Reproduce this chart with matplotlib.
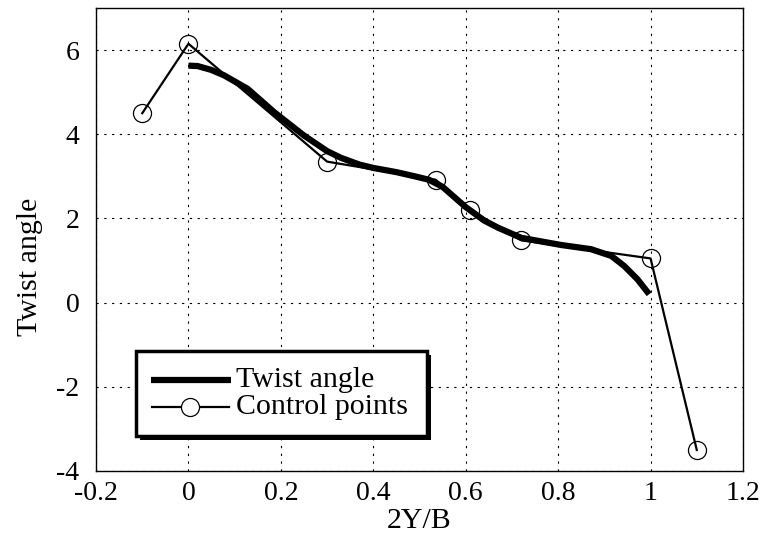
import matplotlib
matplotlib.use("Agg")
import matplotlib.pyplot as plt
from matplotlib.patches import Rectangle
from matplotlib.lines import Line2D

# twist angle distribution along the span
span_x = [0.0, 0.02, 0.049, 0.077, 0.128, 0.186, 0.25, 0.3, 0.33, 0.37,
          0.4, 0.45, 0.49, 0.52, 0.55, 0.6, 0.64, 0.67, 0.72, 0.806,
          0.871, 0.915, 0.943, 0.972, 0.997]
twist = [5.63, 5.62, 5.53, 5.40, 5.08, 4.52, 3.97, 3.6, 3.44, 3.28,
         3.2, 3.1, 3.0, 2.92, 2.75, 2.27, 1.95, 1.78, 1.54, 1.37,
         1.27, 1.11, 0.87, 0.55, 0.20]

# control points of the spline
ctrl_x = [-0.1, 0.0, 0.3, 0.535, 0.61, 0.72, 1.0, 1.1]
ctrl_y = [4.5, 6.15, 3.35, 2.92, 2.2, 1.48, 1.05, -3.5]

xticks = [-0.2, 0, 0.2, 0.4, 0.6, 0.8, 1, 1.2]
xtick_labels = ["-0.2", "0", "0.2", "0.4", "0.6", "0.8", "1", "1.2"]
yticks = [-4, -2, 0, 2, 4, 6]

plt.rcParams['font.family'] = ['Liberation Serif', 'DejaVu Serif']
plt.rcParams['axes.unicode_minus'] = False

fig = plt.figure(figsize=(7.64, 5.43), dpi=100)
ax = fig.add_subplot(111)
fig.subplots_adjust(left=0.1257, right=0.9725, top=0.9853, bottom=0.1326)

ax.plot(span_x, twist, color='black', linewidth=4.5, solid_capstyle='butt',
        solid_joinstyle='round', zorder=3)
ax.plot(ctrl_x, ctrl_y, color='black', linewidth=1.6, marker='o', markersize=13,
        markerfacecolor='none', markeredgewidth=0.9, zorder=4)

ax.set_xlim(-0.2, 1.2)
ax.set_ylim(-4, 7)
ax.set_xticks(xticks)
ax.set_xticklabels(xtick_labels)
ax.set_yticks(yticks)
ax.tick_params(axis='both', length=0, labelsize=20)
ax.tick_params(axis='x', pad=7)
ax.tick_params(axis='y', pad=12)
ax.grid(True, linestyle=(0, (2, 5)), color='black', linewidth=0.8)
for s in ax.spines.values():
    s.set_linewidth(1.0)

ax.set_xlabel("2Y/B", fontsize=21.5, labelpad=2)
ax.set_ylabel("Twist angle", fontsize=21.5)
ax.yaxis.set_label_coords(-0.082, 0.44)

# legend box with a hard black shadow
bx0, by0, bw, bh = 0.0618, 0.0756, 0.4498, 0.1836
ax.add_patch(Rectangle((bx0 + 0.0065, by0 - 0.0095), bw, bh, transform=ax.transAxes,
                       facecolor='black', edgecolor='black', linewidth=0, zorder=5))
ax.add_patch(Rectangle((bx0, by0), bw, bh, transform=ax.transAxes,
                       facecolor='white', edgecolor='black', linewidth=2.5, zorder=6))
ax.add_line(Line2D([0.085, 0.2087], [0.1965, 0.1965], transform=ax.transAxes,
                   color='black', linewidth=4.5, solid_capstyle='butt', zorder=7))
ax.add_line(Line2D([0.087, 0.205], [0.1382, 0.1382], transform=ax.transAxes,
                   color='black', linewidth=1.6, zorder=7))
ax.add_line(Line2D([0.1453], [0.1382], transform=ax.transAxes, marker='o', markersize=13,
                   markerfacecolor='white', markeredgecolor='black', markeredgewidth=0.9, zorder=8))
ax.text(0.2164, 0.1965, "Twist angle", transform=ax.transAxes, fontsize=21.5,
        va='center', ha='left', zorder=8)
ax.text(0.2164, 0.1382, "Control points", transform=ax.transAxes, fontsize=21.5,
        va='center', ha='left', zorder=8)

fig.savefig("out.png", dpi=100)
